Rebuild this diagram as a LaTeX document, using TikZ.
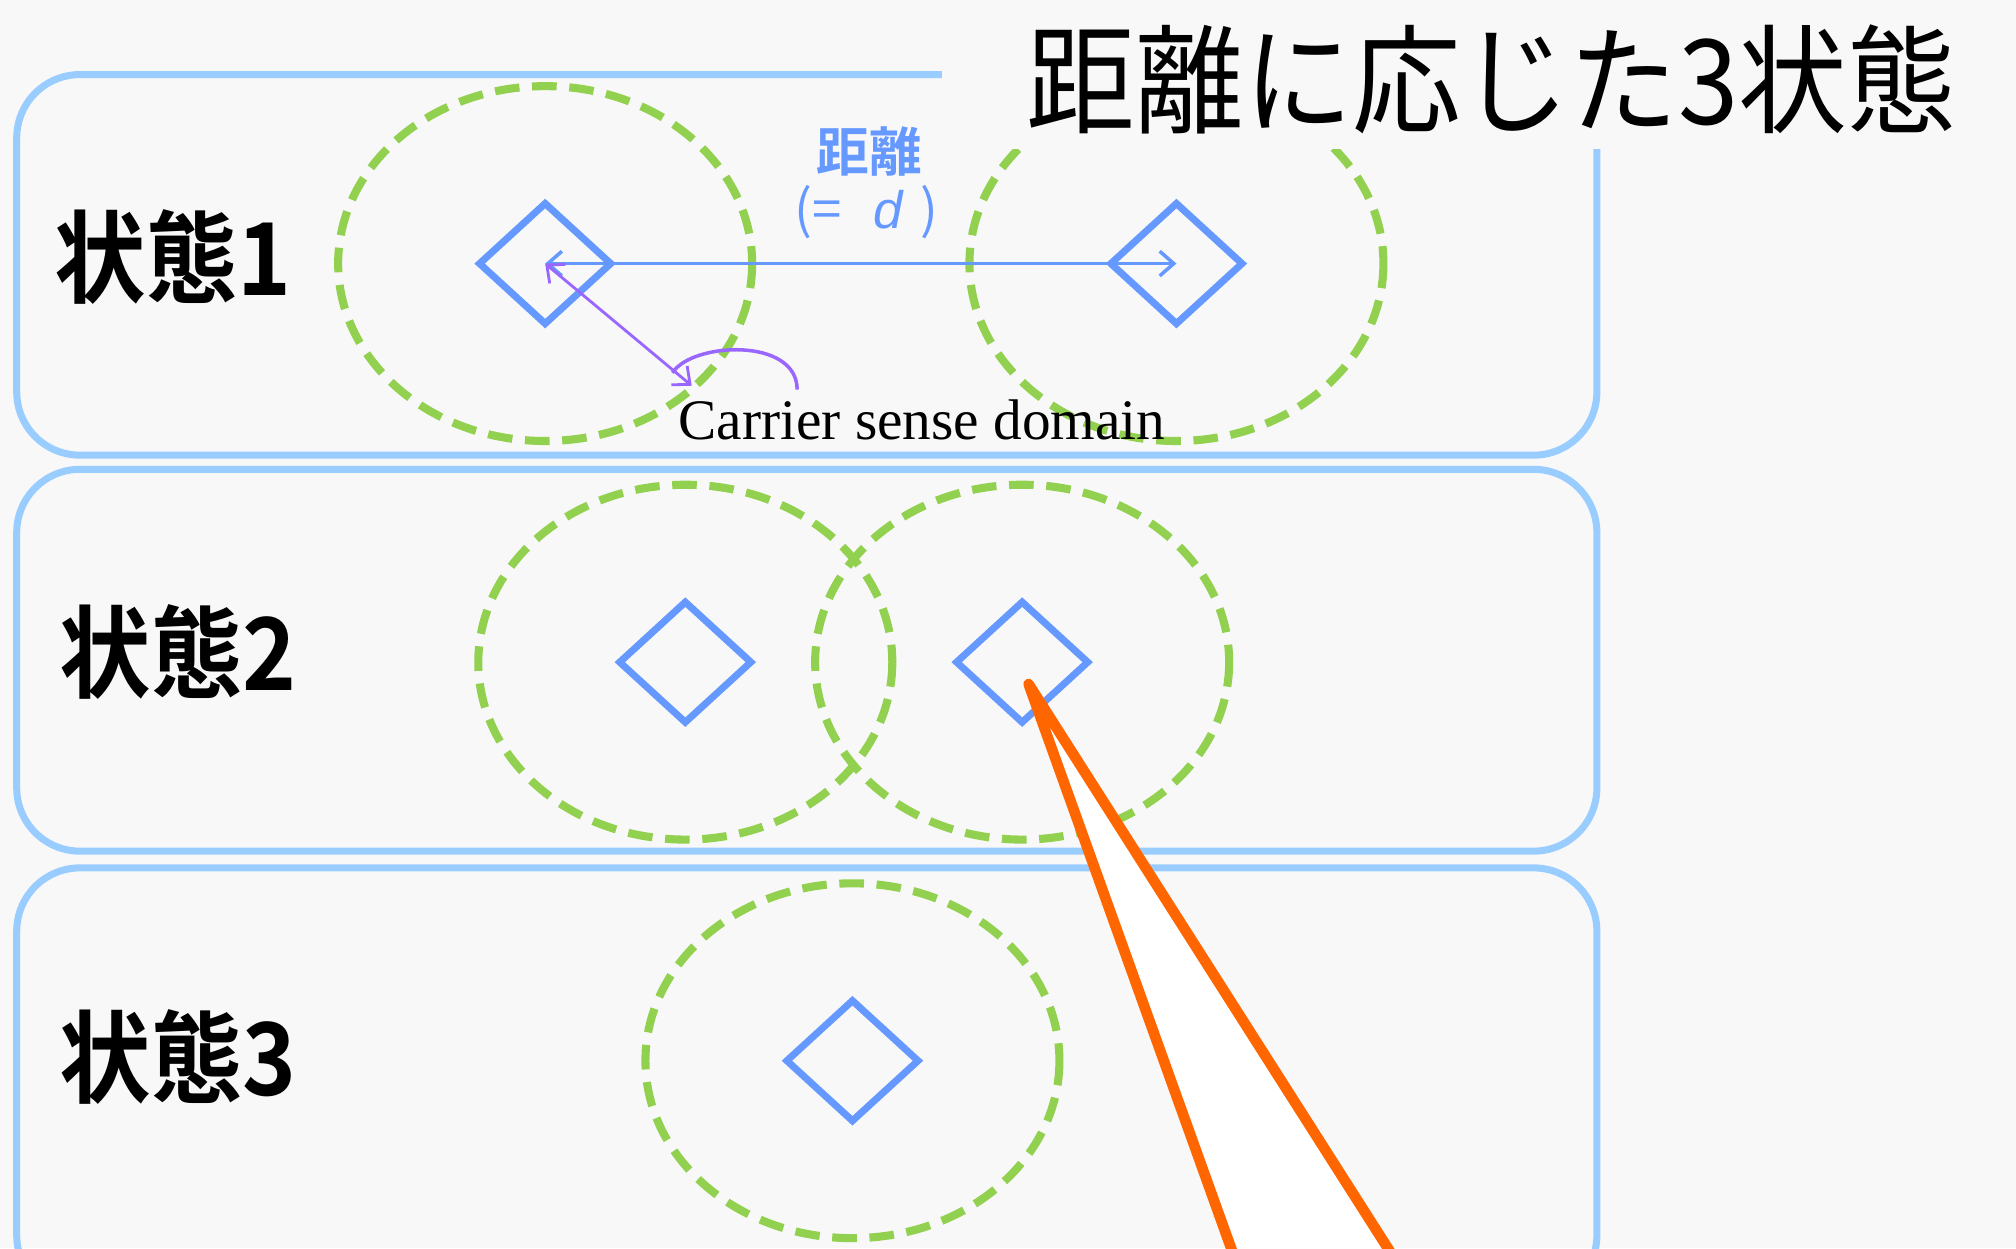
\documentclass[tikz,border=0pt]{standalone}
\usepackage{fontspec}
\usepackage{tikz}
\usetikzlibrary{shapes.geometric}
\usetikzlibrary{arrows.meta}
\newfontfamily\jpfont{Noto Sans CJK JP}[BoldFont={Noto Sans CJK JP Bold}]
\newfontfamily\latinsans{Liberation Sans}
\newfontfamily\latinserif{Liberation Serif}
\definecolor{bgpaper}{RGB}{248,248,248}
\definecolor{panelblue}{RGB}{153,204,255}
\definecolor{nodeblue}{RGB}{102,153,255}
\definecolor{rangegreen}{RGB}{146,208,80}
\definecolor{sensepurple}{RGB}{153,102,255}
\definecolor{calloutorange}{RGB}{255,102,0}
\tikzset{
    panel/.style={draw=panelblue, line width=2pt, rounded corners=18pt},
    station/.style={shape=diamond, draw=nodeblue, line width=2pt, minimum width=13.4mm, minimum height=12.3mm, inner sep=0pt},
    csrange/.style={draw=rangegreen, line width=2.3pt, dash pattern=on 7pt off 3.6pt},
    statelabel/.style={anchor=west, inner sep=0pt, font=\jpfont\bfseries\fontsize{26}{26}\selectfont}}

\begin{document}
\begin{tikzpicture}[x=0.12857mm, y=-0.12857mm]
                    \useasboundingbox (0,0) rectangle (1568,970.7);
                    \fill[bgpaper] (0,0) rectangle (1568,970.7);

                    \draw[panel] (13,58) rectangle (1242,354);
                    \draw[panel] (13,365) rectangle (1242,662);
                    \draw[panel] (13,675) rectangle (1242,1010);

                    % state 1
                    \node[statelabel] (s1) at (42,200) {\scalebox{1}[1.1]{状態1}};
                    \node[station] (d11) at (424,205) {};
                    \node[station] (d12) at (915,205) {};
                    \draw[csrange] (d11) ellipse [x radius=161, y radius=138];
                    \draw[csrange] (d12) ellipse [x radius=161, y radius=138];
                    \draw[nodeblue, line width=1pt, {Straight Barb[length=4pt,width=7pt]}-{Straight Barb[length=4pt,width=7pt]}] (d11.center) -- (d12.center);
                    \node[text=nodeblue, font=\jpfont\bfseries\fontsize{15}{15}\selectfont] (dist) at (676,118) {距離};
                    \node[text=nodeblue, font=\jpfont\fontsize{15}{15}\selectfont] (deq) at (674,165) {(=\hspace{0.6em}{\latinsans\itshape d}\hspace{0.35em})};
                    \coordinate (edge) at (538,300);
                    \draw[sensepurple, line width=0.8pt, {Straight Barb[length=4pt,width=7pt]}-{Straight Barb[length=4pt,width=7pt]}] (d11.center) -- (edge);
                    \draw[sensepurple, line width=1pt] (523,290) .. controls (538,266) and (620,262) .. (620,303);
                    \node[anchor=base, inner sep=0pt, font=\latinserif\fontsize{16.3}{16.3}\selectfont] (csd) at (717,342) {Carrier sense domain};

                    % title
                    \fill[bgpaper] (733,0) rectangle (1568,116);
                    \node[font=\jpfont\fontsize{30}{30}\selectfont] (title) at (1160,62) {\scalebox{1.03}[1.12]{距離に応じた3状態}};

                    % state 2
                    \node[statelabel] (s2) at (46,507) {\scalebox{1}[1.1]{状態2}};
                    \node[station] (d21) at (533,515) {};
                    \node[station] (d22) at (795,515) {};
                    \draw[csrange] (d21) ellipse [x radius=161, y radius=138];
                    \draw[csrange] (d22) ellipse [x radius=161, y radius=138];

                    % state 3
                    \node[statelabel] (s3) at (46,822) {\scalebox{1}[1.1]{状態3}};
                    \node[station] (d31) at (663,825) {};
                    \draw[csrange] (d31) ellipse [x radius=161, y radius=138];

                    % callout
                    \coordinate (tip) at (800,532);
                    \coordinate (wl) at (968,1000);
                    \coordinate (wr) at (1098,1000);
                    \fill[white] (tip) -- (wl) -- (wr) -- cycle;
                    \draw[calloutorange, line width=3pt, line join=round] (wl) -- (tip) -- (wr);

\end{tikzpicture}
\end{document}
